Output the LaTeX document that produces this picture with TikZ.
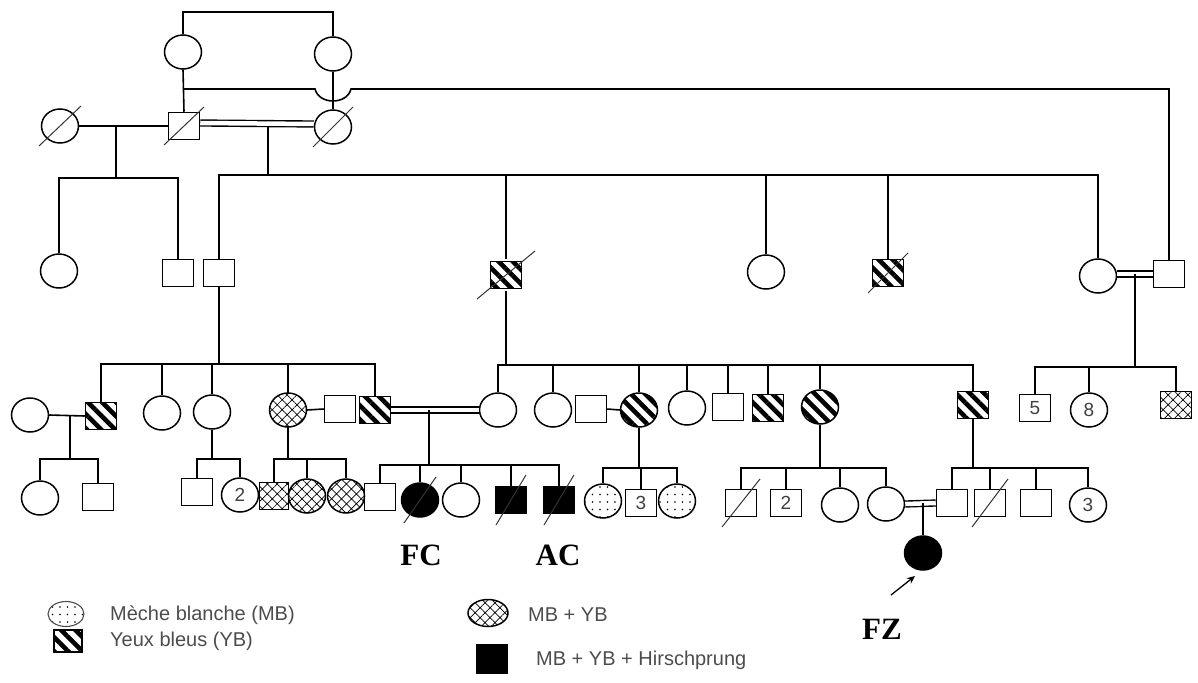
\documentclass[tikz,border=0pt]{standalone}
\usepackage{fontspec}
\setmainfont{Liberation Serif}
\newfontfamily\arialf{Liberation Sans}
\usetikzlibrary{shapes.geometric,patterns.meta,arrows.meta}
\tikzset{
 base/.style={draw, line width=1.5pt, inner sep=0pt},
 male/.style={base, rectangle, minimum width=31pt, minimum height=27pt},
 fem/.style={base, ellipse, minimum width=37pt, minimum height=34pt},
 ybfill/.style={pattern={Lines[angle=-45,distance=10pt,line width=4.6pt]}},
 crossfill/.style={pattern={Hatch[angle=45,distance=7pt,line width=0.7pt]}},
 dotfill/.style={pattern={Dots[distance=7.5pt,radius=0.8pt]}},
 aff/.style={fill=black},
 ln/.style={line width=1.6pt},
 dbl/.style={line width=1.4pt, double, double distance=4.5pt},
 slash/.style={line width=1pt, draw=black!80},
 num/.style={font=\arialf\fontsize{19}{19}\selectfont, text=black!75},
 lbl/.style={font=\bfseries\fontsize{31}{31}\selectfont, inner sep=0pt},
 leg/.style={font=\arialf\fontsize{20}{20}\selectfont, text=black!70, anchor=west, inner sep=0pt},
}
\newcommand{\dead}[3]{\draw[slash] ([shift={(-#2,#3)}]#1.center) -- ([shift={(#2,-#3)}]#1.center);}
\begin{document}
\begin{tikzpicture}[x=1pt,y=-1pt]
\useasboundingbox (0,0) rectangle (1198,682);
% levels
\coordinate (yTop) at (0,12);
\coordinate (yHop) at (0,89);
\coordinate (yII) at (0,175);
\coordinate (yIIL) at (0,178);
\coordinate (yIIIa) at (0,364);
\coordinate (yIIIb) at (0,365);
\coordinate (yIIIc) at (0,367);
\coordinate (yIVa) at (0,459);
\coordinate (yIVb) at (0,465);
\coordinate (yIVc) at (0,468);
% Generation I
\node[fem] (gA) at (183,52) {};
\node[fem] (gB) at (333,54) {};
\node[fem] (gD) at (60,126) {};
\node[male] (gE) at (184,126) {};
\node[fem] (gC) at (333,127) {};
% Generation II
\node[fem] (c1) at (59,271) {};
\node[male] (s1) at (178,273) {};
\node[male] (s2) at (219,273) {};
\node[male,ybfill] (s3) at (506,275) {};
\node[fem] (c2) at (766,272) {};
\node[male,ybfill] (s4) at (888,273) {};
\node[fem] (c3) at (1098,276) {};
\node[male] (s5) at (1169,274) {};
% Gen I connectors
\draw[ln] (gA.north) -- (gA.north |- yTop) -- (gB.north |- yTop) -- (gB.north);
\draw[ln] (gA.south) -- (gE.north);
\draw[ln] (gB.south) -- (gC.north);
\coordinate (hopL) at (315,89);
\coordinate (hopR) at (351,89);
\draw[ln] (gA.south |- yHop) -- (hopL) .. controls (319,105) and (347,105) .. (hopR) -- (s5.north |- yHop) -- (s5.north);
\draw[ln] (gD.east) -- (gE.west);
\coordinate (mDE) at (116,126);
\draw[ln] (mDE) -- (mDE |- yIIL);
\draw[ln] (c1.north) -- (c1.north |- yIIL) -- (s1.north |- yIIL) -- (s1.north);
\draw[dbl] ([yshift=3pt]gE.east) -- ([yshift=3pt]gC.west);
\coordinate (mEC) at (268,126);
\draw[ln] (mEC) -- (mEC |- yII);
\draw[ln] (s2.north) -- (s2.north |- yII) -- (c3.north |- yII) -- (c3.north);
\foreach \n in {s3,c2,s4} \draw[ln] (\n.north) -- (\n.north |- yII);
\dead{gD}{21}{20}
\dead{gE}{20}{19}
\dead{gC}{20}{20}
\dead{s3}{29}{24}
\dead{s4}{20}{20}
\draw[dbl] (c3.east |- s5.west) -- (s5.west);
\coordinate (mR) at (1135,274);
\draw[ln] (mR) -- (mR |- yIIIc);
% Generation III
\node[fem] (h1) at (30,415) {};
\node[male,ybfill] (h2) at (101,416) {};
\node[fem] (h3) at (162,413) {};
\node[fem] (h4) at (212,412) {};
\node[fem,crossfill] (h5) at (288,410) {};
\node[male] (h6) at (340,409) {};
\node[male,ybfill] (h7) at (375,410) {};
\node[fem] (k1) at (498,410) {};
\node[fem] (k2) at (553,410) {};
\node[male] (k3) at (591,409) {};
\node[fem,ybfill] (k4) at (639,410) {};
\node[fem] (k5) at (687,408) {};
\node[male] (k6) at (728,407) {};
\node[male,ybfill] (k7) at (768,408) {};
\node[fem,ybfill] (k8) at (820,407) {};
\node[male,ybfill] (k9) at (973,405) {};
\node[male,num] (r1) at (1035,408) {5};
\node[fem,num] (r2) at (1089,410) {8};
\node[male,crossfill] (r3) at (1176,405) {};
% Gen III connectors
\draw[ln] (s2.south) -- (s2.south |- yIIIa);
\draw[ln] (h2.north) -- (h2.north |- yIIIa) -- (h7.north |- yIIIa) -- (h7.north);
\foreach \n in {h3,h4,h5} \draw[ln] (\n.north) -- (\n.north |- yIIIa);
\draw[ln] (h1.east) -- (h2.west);
\draw[ln] (h5.east) -- (h6.west);
\draw[dbl] (h7.east) -- (k1.west);
\draw[ln] (s3.south) -- (s3.south |- yIIIb);
\draw[ln] (k1.north) -- (k1.north |- yIIIb) -- (k9.north |- yIIIb) -- (k9.north);
\foreach \n in {k2,k4,k5,k6,k7,k8} \draw[ln] (\n.north) -- (\n.north |- yIIIb);
\draw[ln] (k3.east) -- (k4.west);
\draw[ln] (r1.north) -- (r1.north |- yIIIc) -- (r3.north |- yIIIc) -- (r3.north);
\draw[ln] (r2.north) -- (r2.north |- yIIIc);
% Generation IV
\node[fem] (p1) at (40,498) {};
\node[male] (p2) at (98,497) {};
\node[male] (p3) at (197,492) {};
\node[fem,num] (p4) at (240,495) {2};
\node[male,crossfill,minimum width=29pt] (p5) at (274,496) {};
\node[fem,crossfill] (p6) at (307,496) {};
\node[fem,crossfill] (p7) at (346,496) {};
\node[male] (p8) at (380,497) {};
\node[fem,aff] (p9) at (420,500) {};
\node[fem] (p10) at (461,500) {};
\node[male,aff] (p11) at (511,500) {};
\node[male,aff] (p12) at (559,500) {};
\node[fem,dotfill] (q1) at (603,501) {};
\node[male,num] (q2) at (641,503) {3};
\node[fem,dotfill] (q3) at (677,501) {};
\node[male] (q4) at (741,503) {};
\node[male,num] (q5) at (786,503) {2};
\node[fem] (q6) at (840,505) {};
\node[fem] (q7) at (886,504) {};
\node[male] (q8) at (952,503) {};
\node[male] (q9) at (990,503) {};
\node[male] (q10) at (1036,503) {};
\node[fem,num] (q11) at (1088,505) {3};
\node[fem,aff] (z1) at (923,553) {};
% Gen IV connectors
\coordinate (m12) at (70,415);
\draw[ln] (m12) -- (m12 |- yIVa);
\draw[ln] (p1.north) -- (p1.north |- yIVa) -- (p2.north |- yIVa) -- (p2.north);
\draw[ln] (h4.south) -- (h4.south |- yIVa);
\draw[ln] (p3.north) -- (p3.north |- yIVa) -- (p4.north |- yIVa) -- (p4.north);
\draw[ln] (h5.south) -- (h5.south |- yIVa);
\draw[ln] (p5.north) -- (p5.north |- yIVa) -- (p7.north |- yIVa) -- (p7.north);
\draw[ln] (p6.north) -- (p6.north |- yIVa);
\coordinate (m7k) at (429,410);
\draw[ln] (m7k) -- (m7k |- yIVb);
\draw[ln] (p8.north) -- (p8.north |- yIVb) -- (p12.north |- yIVb) -- (p12.north);
\foreach \n in {p9,p10,p11} \draw[ln] (\n.north) -- (\n.north |- yIVb);
\draw[ln] (k4.south) -- (k4.south |- yIVc);
\draw[ln] (q1.north) -- (q1.north |- yIVc) -- (q3.north |- yIVc) -- (q3.north);
\draw[ln] (q2.north) -- (q2.north |- yIVc);
\draw[ln] (k8.south) -- (k8.south |- yIVc);
\draw[ln] (q4.north) -- (q4.north |- yIVc) -- (q7.north |- yIVc) -- (q7.north);
\foreach \n in {q5,q6} \draw[ln] (\n.north) -- (\n.north |- yIVc);
\draw[ln] (k9.south) -- (k9.south |- yIVc);
\draw[ln] (q8.north) -- (q8.north |- yIVc) -- (q11.north |- yIVc) -- (q11.north);
\foreach \n in {q9,q10} \draw[ln] (\n.north) -- (\n.north |- yIVc);
\draw[dbl] (q7.east) -- (q8.west);
\coordinate (mZ) at (923,503);
\draw[ln] (mZ) -- (z1.north);
\dead{p9}{16}{23}
\dead{p11}{15}{25}
\dead{p12}{15}{25}
\dead{q4}{19}{24}
\dead{q9}{18}{24}
% arrow and labels
\coordinate (arS) at (891,595);
\coordinate (arE) at (915,576);
\draw[line width=1.3pt,-{Stealth[length=8pt,width=7pt]}] (arS) -- (arE);
\node[lbl] (FC) at (421,555) {FC};
\node[lbl] (AC) at (558,555) {AC};
\node[lbl] (FZ) at (882,629) {FZ};
% legend
\node[fem,dotfill,minimum width=36pt,minimum height=25pt,line width=1.1pt,draw=black!70] (L1) at (66,614) {};
\node[male,ybfill,minimum width=28pt,minimum height=22pt] (L2) at (68,641) {};
\node[fem,crossfill,minimum width=40pt,minimum height=27pt] (L3) at (488,613) {};
\node[male,aff,minimum width=31pt,minimum height=28pt] (L4) at (492,659) {};
\node[leg] (T1) at (110,615) {Mèche blanche (MB)};
\node[leg] (T2) at (110,641) {Yeux bleus (YB)};
\node[leg] (T3) at (528,615) {MB + YB};
\node[leg] (T4) at (536,660) {MB + YB + Hirschprung};
\end{tikzpicture}
\end{document}
